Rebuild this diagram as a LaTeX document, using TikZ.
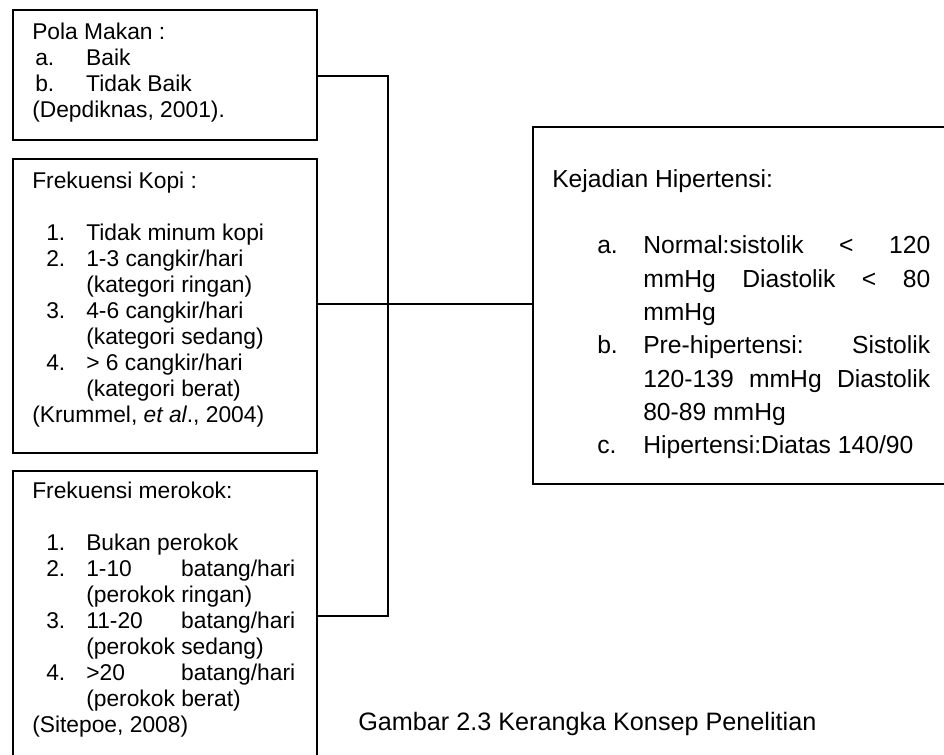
\documentclass[tikz,border=0pt]{standalone}
\usepackage{fontspec}
\setmainfont{Liberation Sans}
\newdimen\pxu \pxu=0.75pt
\newcommand{\leftfont}{\fontsize{17.1pt}{19.5pt}\selectfont}
\newcommand{\rightfont}{\fontsize{18.5pt}{25pt}\selectfont}
\newcommand{\capfont}{\fontsize{18.9pt}{25pt}\selectfont}
\newcommand{\lab}[2]{\makebox[#1\pxu][l]{#2}}
\newcommand{\just}[2]{\makebox[#1\pxu][s]{#2}}
\tikzset{
  boxnode/.style={draw=black, line width=1.4pt, rectangle, inner sep=0pt, anchor=north west},
  txt/.style={anchor=base west, inner sep=0pt, align=left},
  conn/.style={draw=black, line width=1.4pt}
}
\begin{document}
\begin{tikzpicture}[x=0.75pt, y=-0.75pt]
\useasboundingbox (0,0) rectangle (944,754);
\fill[white] (0,0) rectangle (944,754);
\clip (0,0) rectangle (944,754);
% boxes
\node[boxnode, minimum width=304\pxu, minimum height=130\pxu] (b1) at (12,9) {};
\node[boxnode, minimum width=304\pxu, minimum height=294\pxu] (b2) at (12,158) {};
\node[boxnode, minimum width=304\pxu, minimum height=292\pxu] (b3) at (12,470) {};
\node[boxnode, minimum width=440\pxu, minimum height=357\pxu] (rb) at (532,126) {};
% texts
\node[txt] (t1) at (32,39) {\parbox[t]{280\pxu}{\leftfont
Pola Makan :\\
\hspace*{3\pxu}\lab{51}{a.}Baik\\
\hspace*{3\pxu}\lab{51}{b.}Tidak Baik\\
(Depdiknas, 2001).}};
\node[txt] (t2) at (32,188) {\parbox[t]{280\pxu}{\leftfont
Frekuensi Kopi :\\[19.5pt]
\hspace*{14\pxu}\lab{40}{1.}Tidak minum kopi\\
\hspace*{14\pxu}\lab{40}{2.}1-3 cangkir/hari\\
\hspace*{54\pxu}(kategori ringan)\\
\hspace*{14\pxu}\lab{40}{3.}4-6 cangkir/hari\\
\hspace*{54\pxu}(kategori sedang)\\
\hspace*{14\pxu}\lab{40}{4.}> 6 cangkir/hari\\
\hspace*{54\pxu}(kategori berat)\\
(Krummel, \textit{et al}., 2004)}};
\node[txt] (t3) at (32,498) {\parbox[t]{280\pxu}{\leftfont
Frekuensi merokok:\\[19.5pt]
\hspace*{14\pxu}\lab{40}{1.}Bukan perokok\\
\hspace*{14\pxu}\lab{40}{2.}\just{209}{1-10 batang/hari}\\
\hspace*{54\pxu}(perokok ringan)\\
\hspace*{14\pxu}\lab{40}{3.}\just{209}{11-20 batang/hari}\\
\hspace*{54\pxu}(perokok sedang)\\
\hspace*{14\pxu}\lab{40}{4.}\just{209}{>20 batang/hari}\\
\hspace*{54\pxu}(perokok berat)\\
(Sitepoe, 2008)}};
\node[txt] (t4) at (552,187) {\parbox[t]{390\pxu}{\rightfont
Kejadian Hipertensi:\\[25pt]
\hspace*{45\pxu}\lab{46}{a.}\just{287}{Normal:sistolik < 120}\\
\hspace*{91\pxu}\just{287}{mmHg Diastolik < 80}\\
\hspace*{91\pxu}mmHg\\
\hspace*{45\pxu}\lab{46}{b.}\just{287}{Pre-hipertensi: Sistolik}\\
\hspace*{91\pxu}\just{287}{120-139 mmHg Diastolik}\\
\hspace*{91\pxu}80-89 mmHg\\
\hspace*{45\pxu}\lab{46}{c.}Hipertensi:Diatas 140/90}};
\node[txt, font=\capfont] (cap) at (358,730) {Gambar 2.3 Kerangka Konsep Penelitian};
% connectors
\coordinate (j) at (388,304);
\draw[conn] (b1.east |- 0,76) -| (j);
\draw[conn] (b3.east |- 0,616) -| (j);
\draw[conn] (b2.east |- 0,304) -- (rb.west |- 0,304);
\end{tikzpicture}
\end{document}
